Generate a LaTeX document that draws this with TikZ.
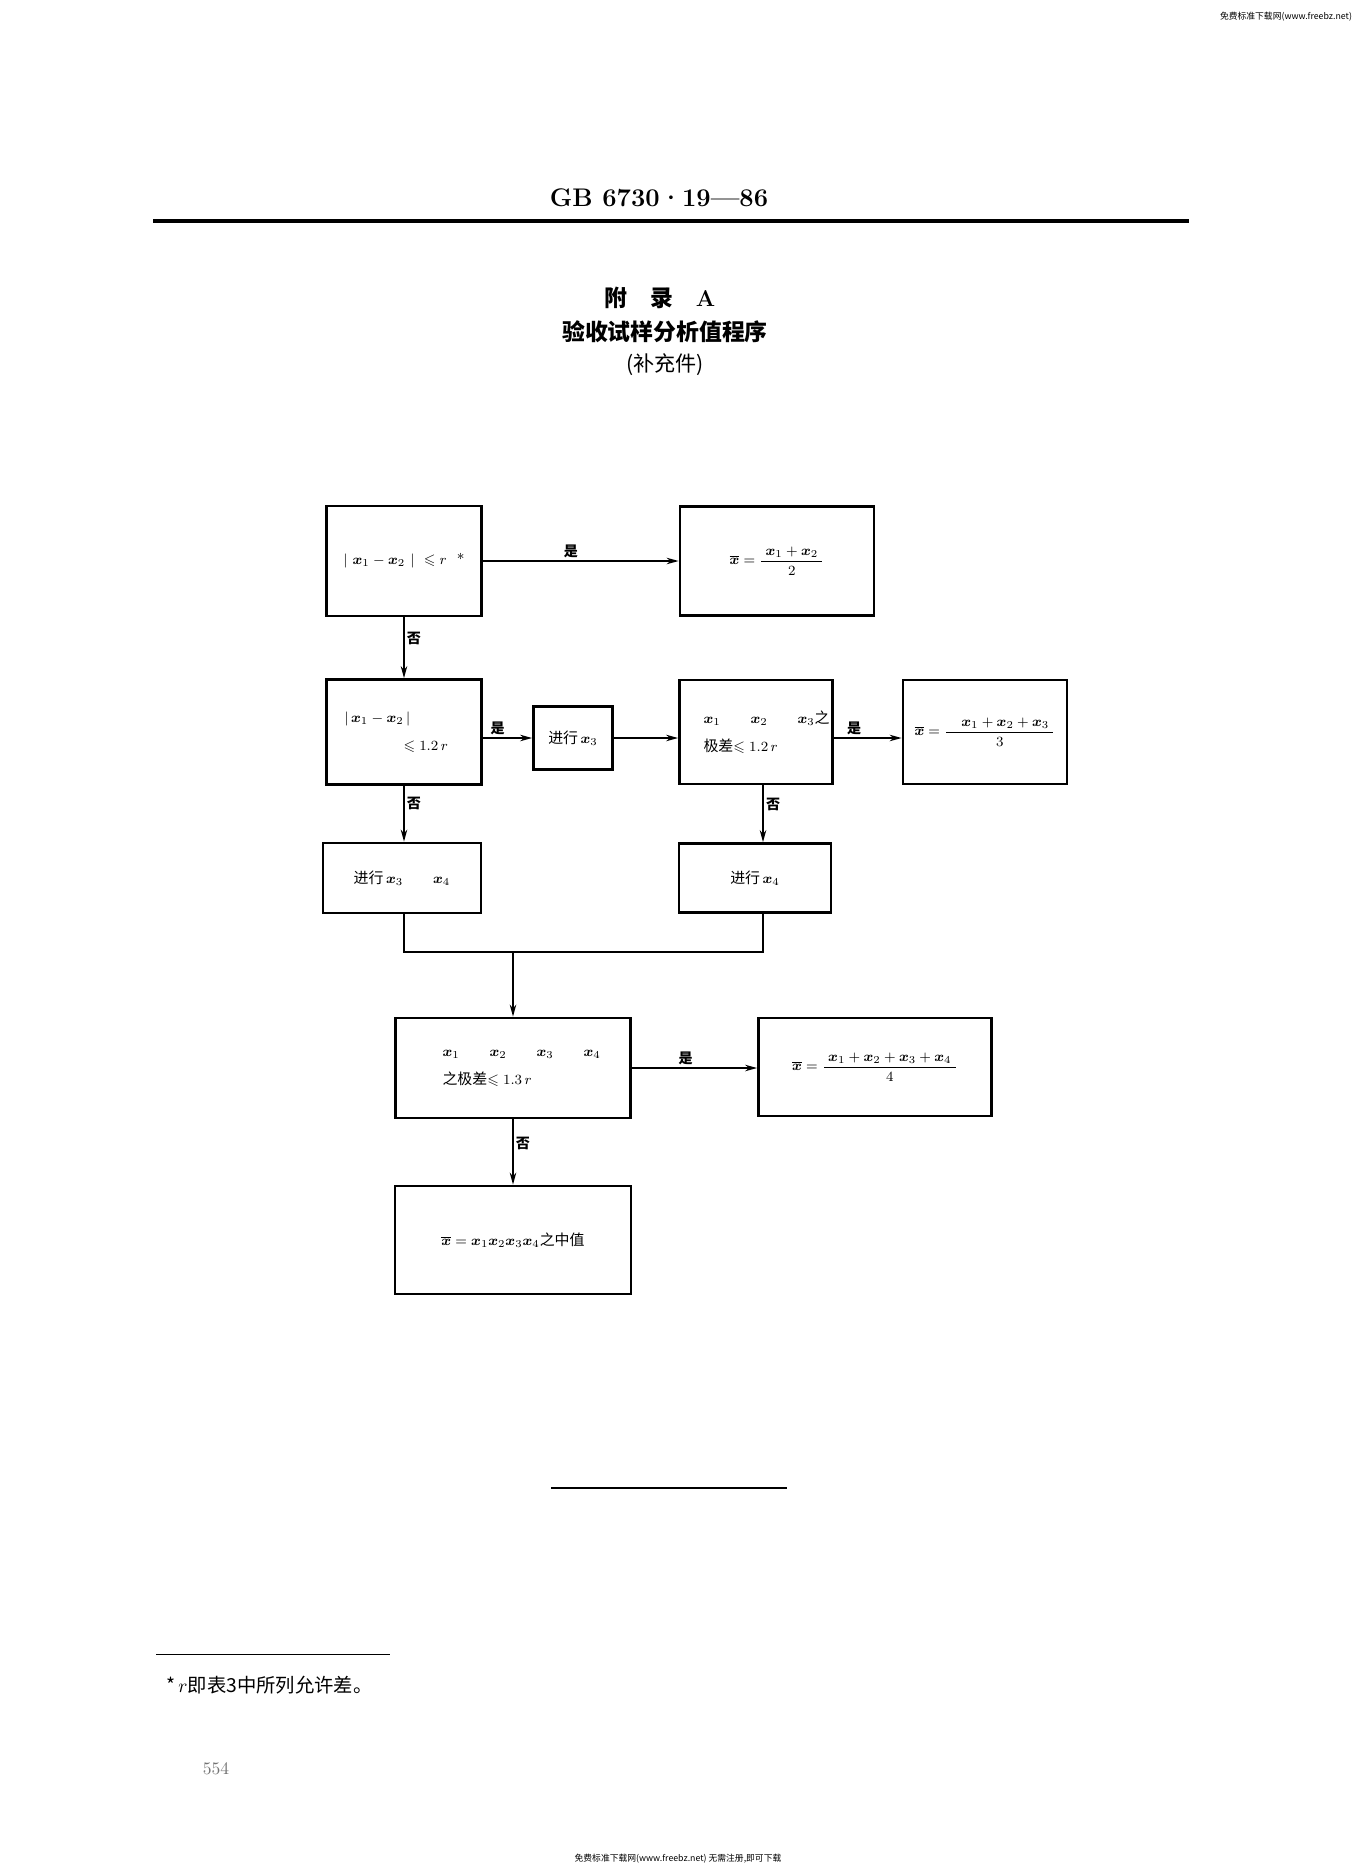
\documentclass[tikz,border=0pt]{standalone}
\usepackage{amsmath,amssymb}
\usepackage{fontspec}
\newfontfamily\cjk{Noto Sans CJK SC}
\usetikzlibrary{arrows.meta}
\usetikzlibrary{positioning}
\usetikzlibrary{calc}
\newcommand{\xv}{\boldsymbol{x}}

\begin{document}
\begin{tikzpicture}[x=0.2mm,y=-0.2mm,
  >={Stealth[length=2.4mm,width=1.3mm]},
  box/.style={rectangle, draw, line width=1.6pt, inner sep=0mm,
    font=\fontsize{8.5}{16}\selectfont},
  conn/.style={line width=0.9pt},
  lbl/.style={font=\fontsize{8}{10}\selectfont\cjk\bfseries, inner sep=1.5pt},
  wm/.style={font=\fontsize{5}{6}\selectfont\cjk, inner sep=0pt}]

  \path[fill=white] (0,0) rectangle (1357,1872);
  \useasboundingbox (0,0) rectangle (1357,1872);

  \node[wm] (wmtop) at (1286,17) {免费标准下载网(www.freebz.net)};
  \node[wm] (wmbot) at (678,1859) {免费标准下载网(www.freebz.net) 无需注册,即可下载};

  \node[font=\bfseries\fontsize{14.5}{17}\selectfont] (hdr) at (659,198) {GB 6730·19—86};
  \draw[line width=0.7mm] (153,221) -- (1189,221);

  \node[font=\fontsize{13}{15}\selectfont\bfseries] (ttl1) at (660,298) {{\cjk 附\quad 录}\quad A};
  \node[font=\fontsize{13}{15}\selectfont\cjk\bfseries] (ttl2) at (665,332) {验收试样分析值程序};
  \node[font=\fontsize{12}{14}\selectfont\cjk] (ttl3) at (665,365) {(补充件)};

  \node[box, minimum width=31mm, minimum height=22mm] at (404,561) (C1)
  {$|\ \xv_1 - \xv_2\ |\ \leqslant r$\ \ *};
  \node[box, minimum width=38.8mm, minimum height=21.8mm] at (777,561) (R1)
  {$\overline{\xv} = \dfrac{\;\xv_1 + \xv_2\;}{2}$};

  \node[box, minimum width=31mm, minimum height=21mm, inner xsep=3.6mm,
    text width=23.8mm, align=left] at (404,732) (C2)
  {$|\,\xv_1 - \xv_2\,|$\\ \hspace*{11.8mm}$\leqslant 1.2\,r$};
  \node[box, minimum width=15.8mm, minimum height=12.6mm] at (573,738) (D1)
  {{\cjk 进行}\,$\xv_3$};
  \node[box, minimum width=30.6mm, minimum height=20.8mm, inner xsep=4.8mm,
    text width=21mm, align=left] at (756,732) (C3)
  {$\xv_1\qquad\xv_2\qquad\xv_3${\cjk 之}\\{\cjk 极差}$\leqslant 1.2\,r$};
  \node[box, minimum width=32.8mm, minimum height=20.8mm] at (985,732) (R2)
  {$\overline{\xv} = \dfrac{\quad\xv_1 + \xv_2 + \xv_3\;}{3}$};

  \node[box, minimum width=31.6mm, minimum height=14mm] at (402,878) (D2)
  {{\cjk 进行}\,$\xv_3\qquad\xv_4$};
  \node[box, minimum width=30.4mm, minimum height=13.8mm] at (755,878) (D3)
  {{\cjk 进行}\,$\xv_4$};

  \node[box, minimum width=47mm, minimum height=20mm, inner xsep=9.4mm,
    text width=28.2mm, align=left] at (513,1068) (C4)
  {$\xv_1\qquad\xv_2\qquad\xv_3\qquad\xv_4$\\{\cjk 之极差}$\leqslant 1.3\,r$};
  \node[box, minimum width=46.6mm, minimum height=19.6mm] at (875,1067) (R3)
  {$\overline{\xv} = \dfrac{\;\xv_1 + \xv_2 + \xv_3 + \xv_4\;}{4}$};

  \node[box, minimum width=47.2mm, minimum height=21.6mm] at (513,1240) (R4)
  {$\overline{\xv} = \xv_1\xv_2\xv_3\xv_4${\cjk 之中值}};

\coordinate (m3) at (763,0);
\coordinate (J) at (513,952);

  \path[->, conn]
 (C1.east) edge (R1.west)
 (C1.south) edge (C2.north)
 (C2.east |- D1.west) edge (D1.west)
 (D1.east) edge (C3.west |- D1.east)
 (C3.east |- D1.east) edge (R2.west |- D1.east)
 (C2.south) edge (C2.south |- D2.north)
 (C3.south -| m3) edge (D3.north -| m3)
 (C4.east) edge (C4.east -| R3.west)
 (C4.south) edge (R4.north);

\draw[conn] (D2.south -| C2.south) |- (J) -| (D3.south -| m3);
\draw[conn,->] (J) -- (C4.north);

\node[lbl, above] at ($(C1.east)!.45!(R1.west)$) {是};
\node[lbl, above] at ($(C2.east |- D1.west)!.3!(D1.west)$) {是};
\node[lbl, above] at ($(C3.east |- D1.east)!.3!(R2.west |- D1.east)$) {是};
\node[lbl, above] at ($(C4.east)!.43!(C4.east -| R3.west)$) {是};
\node[lbl, right] at ($(C1.south)!.35!(C2.north)$) {否};
\node[lbl, right] at ($(C2.south)!.32!(C2.south |- D2.north)$) {否};
\node[lbl, right] at ($(C3.south -| m3)!.34!(D3.north -| m3)$) {否};
\node[lbl, right] at ($(C4.south)!.37!(R4.north)$) {否};

  \draw[line width=0.5mm] (551,1488) -- (787,1488);

  \draw[line width=0.4pt] (156,1654) -- (390,1654);
  \node[right, font=\fontsize{11}{13}\selectfont\cjk] (fn) at (160,1685) {*\,$r$即表3中所列允许差。};
  \node[font=\fontsize{10}{12}\selectfont, text=black!55] (pg) at (216,1769) {554};

\end{tikzpicture}
\end{document}
